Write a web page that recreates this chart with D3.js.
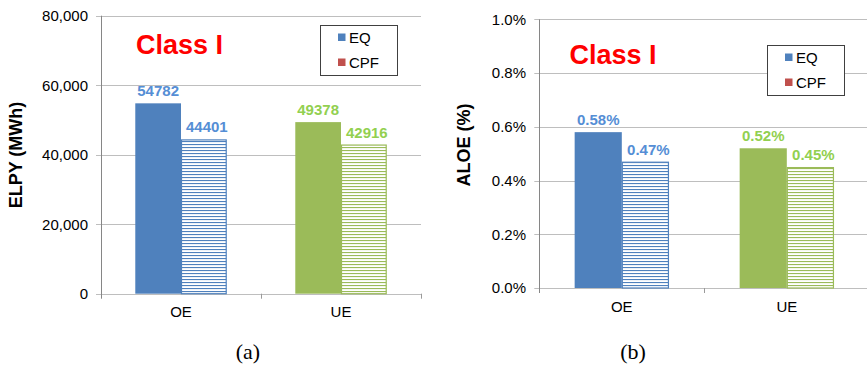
<!DOCTYPE html>
<html>
<head>
<meta charset="utf-8">
<script src="https://cdn.jsdelivr.net/npm/d3@7"></script>
<style>
  html, body { margin: 0; padding: 0; background: #fff; }
  svg { display: block; font-family: "Liberation Sans", Arial, sans-serif; }
</style>
</head>
<body>
<svg id="chart" width="867" height="366"></svg>
<script>
// Categories and series shared by both panels
const categories = ["OE", "UE"];
const seriesNames = ["EQ", "CPF"];

// Panel (a): ELPY in MWh
const elpyEQ = [54782, 49378];
const elpyCPF = [44401, 42916];
const elpyTicks = [0, 20000, 40000, 60000, 80000];

// Panel (b): ALOE in percent
const aloeEQ = [0.58, 0.52];
const aloeCPF = [0.47, 0.45];
const aloeTicks = [0, 0.2, 0.4, 0.6, 0.8, 1.0];

// Colours per category (bars) and per category (value labels)
const barColors = ["#4F81BD", "#9BBB59"];
const labelColors = ["#558ED5", "#92D050"];
const legendColors = ["#4F81BD", "#C0504D"];

const svg = d3.select("#chart");
const defs = svg.append("defs");

// Horizontal stripe fills for the CPF bars
barColors.forEach((c, i) => {
  const p = defs.append("pattern")
    .attr("id", "stripe" + i)
    .attr("patternUnits", "userSpaceOnUse")
    .attr("width", 6).attr("height", 3);
  p.append("rect").attr("width", 6).attr("height", 3).attr("fill", "#fff");
  p.append("rect").attr("y", 0).attr("width", 6).attr("height", 1.1).attr("fill", c);
});

function drawPanel(cfg) {
  const g = svg.append("g");
  const { left, right, top, bottom } = cfg;

  const y = d3.scaleLinear().domain(cfg.domain).range([bottom, top]);
  const x0 = d3.scaleBand().domain(categories).range([left, right]).padding(0);
  const x1 = d3.scaleBand().domain(seriesNames).range([0, x0.bandwidth()])
    .paddingInner(0).paddingOuter(0.75);

  // Gridlines with short ticks to the left of the axis
  g.append("g").selectAll("line").data(cfg.ticks).join("line")
    .attr("x1", left - 5).attr("x2", Math.min(right, 867))
    .attr("y1", d => Math.round(y(d)) + 0.5).attr("y2", d => Math.round(y(d)) + 0.5)
    .attr("stroke", "#BEBEBE").attr("stroke-width", 1);

  // Tick labels
  g.append("g").selectAll("text").data(cfg.ticks).join("text")
    .attr("x", cfg.tickLabelX).attr("y", d => y(d)).attr("dy", "0.36em")
    .attr("text-anchor", "end").attr("font-size", 15).attr("fill", "#000")
    .text(cfg.tickFormat);

  // Vertical axis line
  g.append("line")
    .attr("x1", Math.round(left) + 0.5).attr("x2", Math.round(left) + 0.5)
    .attr("y1", y(cfg.domain[1])).attr("y2", bottom + 5)
    .attr("stroke", "#868686");

  // Category separators on the baseline
  const seps = categories.map(c => x0(c) + x0.bandwidth()).filter(v => v < 867);
  g.append("g").selectAll("line").data(seps).join("line")
    .attr("x1", d => Math.round(d) + 0.5).attr("x2", d => Math.round(d) + 0.5)
    .attr("y1", bottom).attr("y2", bottom + 5)
    .attr("stroke", "#9A9A9A");

  // Bars
  const rows = categories.map((c, i) => ({ cat: c, idx: i, eq: cfg.eq[i], cpf: cfg.cpf[i] }));
  const groups = g.append("g").selectAll("g").data(rows).join("g")
    .attr("transform", d => `translate(${x0(d.cat)},0)`);

  groups.append("rect")
    .attr("x", x1("EQ")).attr("width", x1.bandwidth())
    .attr("y", d => y(d.eq)).attr("height", d => y(0) - y(d.eq))
    .attr("fill", d => barColors[d.idx]);

  groups.append("rect")
    .attr("x", x1("CPF") + 0.5).attr("width", x1.bandwidth() - 1)
    .attr("y", d => y(d.cpf) + 0.5).attr("height", d => y(0) - y(d.cpf) - 0.5)
    .attr("fill", d => `url(#stripe${d.idx})`)
    .attr("stroke", d => barColors[d.idx]).attr("stroke-width", 1.2);

  // Value labels
  groups.append("text")
    .attr("x", x1("EQ") + x1.bandwidth() / 2).attr("y", d => y(d.eq) - 7)
    .attr("text-anchor", "middle").attr("font-size", 15).attr("font-weight", "bold")
    .attr("fill", d => labelColors[d.idx]).text(d => cfg.labelFormat(d.eq));
  groups.append("text")
    .attr("x", x1("CPF") + x1.bandwidth() / 2 + 3).attr("y", d => y(d.cpf) - 7)
    .attr("text-anchor", "middle").attr("font-size", 15).attr("font-weight", "bold")
    .attr("fill", d => labelColors[d.idx]).text(d => cfg.labelFormat(d.cpf));

  // Category labels
  g.append("g").selectAll("text").data(categories).join("text")
    .attr("x", d => x0(d) + x0.bandwidth() / 2).attr("y", cfg.catLabelY)
    .attr("text-anchor", "middle").attr("font-size", 15).text(d => d);

  // Axis title
  g.append("text")
    .attr("transform", `translate(${cfg.titleX},${cfg.titleY}) rotate(-90)`)
    .attr("text-anchor", "middle").attr("font-size", 18).attr("font-weight", "bold")
    .text(cfg.yTitle);

  // "Class I" annotation
  g.append("text")
    .attr("x", cfg.classX).attr("y", cfg.classY)
    .attr("font-size", 27).attr("font-weight", "bold").attr("fill", "#FF0000")
    .text("Class I");

  // Legend
  const lg = g.append("g").attr("transform", `translate(${cfg.legendX},${cfg.legendY})`);
  lg.append("rect").attr("x", 0.5).attr("y", 0.5).attr("width", 77).attr("height", 50)
    .attr("fill", "#fff").attr("stroke", "#404040").attr("stroke-width", 1);
  seriesNames.forEach((s, i) => {
    lg.append("rect").attr("x", 18).attr("y", 8.5 + i * 25).attr("width", 7.5).attr("height", 7.5)
      .attr("fill", legendColors[i]);
    lg.append("text").attr("x", 29).attr("y", 17.5 + i * 25)
      .attr("font-size", 15).text(s);
  });

  // Panel caption
  g.append("text")
    .attr("x", cfg.captionX).attr("y", 359)
    .attr("text-anchor", "middle").attr("font-size", 22)
    .attr("font-family", "'Liberation Serif', 'Times New Roman', serif")
    .text(cfg.caption);
}

drawPanel({
  left: 101, right: 421, top: 15.7, bottom: 293.7,
  domain: [0, 80000], ticks: elpyTicks,
  tickFormat: d3.format(","), labelFormat: d => String(d),
  eq: elpyEQ, cpf: elpyCPF,
  tickLabelX: 88, catLabelY: 317, titleX: 22, titleY: 155, yTitle: "ELPY (MWh)",
  classX: 136, classY: 53.5, legendX: 320, legendY: 25,
  captionX: 248, caption: "(a)"
});

drawPanel({
  left: 539.3, right: 869.3, top: 19.3, bottom: 288,
  domain: [0, 1.0], ticks: aloeTicks,
  tickFormat: d => d.toFixed(1) + "%", labelFormat: d => d.toFixed(2) + "%",
  eq: aloeEQ, cpf: aloeCPF,
  tickLabelX: 526, catLabelY: 311.5, titleX: 470, titleY: 145, yTitle: "ALOE (%)",
  classX: 569.5, classY: 63.5, legendX: 767, legendY: 45,
  captionX: 633, caption: "(b)"
});
</script>
</body>
</html>
